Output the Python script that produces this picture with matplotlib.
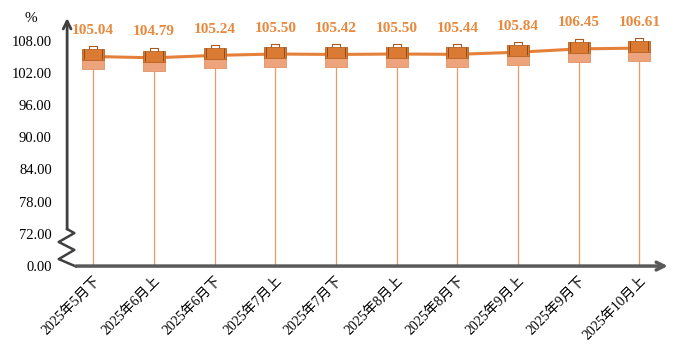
import matplotlib.pyplot as plt
from matplotlib.path import Path
from matplotlib.markers import MarkerStyle

periods = ['2025年5月下', '2025年6月上', '2025年6月下', '2025年7月上', '2025年7月下',
           '2025年8月上', '2025年8月下', '2025年9月上', '2025年9月下', '2025年10月上']
values = [105.04, 104.79, 105.24, 105.50, 105.42, 105.50, 105.44, 105.84, 106.45, 106.61]
ytick_pos = [66, 72, 78, 84, 90, 96, 102, 108]
ytick_labels = ['0.00', '72.00', '78.00', '84.00', '90.00', '96.00', '102.00', '108.00']

plt.rcParams['font.family'] = ['Liberation Serif', 'Noto Sans CJK SC']

fig = plt.figure(figsize=(6.78, 3.61), dpi=100)
ax = fig.add_axes([0.099, 0.263, 0.886, 0.687])
ax.set_xlim(-0.43, 9.47)
ax.set_ylim(66, 112.2)

x = list(range(len(values)))

# drop lines from each point to the axis
ax.vlines(x, 66, values, color='#E8894A', lw=0.9, alpha=0.85, zorder=1)
ax.plot(x, values, color='#E5803A', lw=2.2, zorder=2)

# briefcase-like markers
def box(x0, x1, y0, y1):
    return [(x0, y0), (x1, y0), (x1, y1), (x0, y1), (x0, y0)]

P = Path.MOVETO
L = Path.LINETO
C = Path.CLOSEPOLY
anchor = [(1.1, 1.1), (-1.1, -1.1)]
upper = Path(anchor + box(-1, 1, -0.36, 0.64), [P, P, P, L, L, L, C])
lower = Path(anchor + box(-0.95, 0.95, -1.1, -0.36), [P, P, P, L, L, L, C])
handle = Path(anchor + [(-0.35, 0.64), (-0.35, 0.92), (0.35, 0.92), (0.35, 0.64)],
              [P, P, P, L, L, L])
straps = Path(anchor + [(-0.8, -0.3), (-0.8, 0.58), (0.8, -0.3), (0.8, 0.58)],
              [P, P, P, L, P, L])

ms = 18
ax.plot(x, values, ls='none', marker=MarkerStyle(lower), markersize=ms,
        markerfacecolor='#EDA47C', markeredgecolor='#E39265', mew=0.6, zorder=3)
ax.plot(x, values, ls='none', marker=MarkerStyle(upper), markersize=ms,
        markerfacecolor='#DA7A33', markeredgecolor='#B8621F', mew=0.6, zorder=4)
ax.plot(x, values, ls='none', marker=MarkerStyle(handle), markersize=ms,
        markerfacecolor='none', markeredgecolor='#A95A1E', mew=0.8, zorder=4)
ax.plot(x, values, ls='none', marker=MarkerStyle(straps), markersize=ms,
        markerfacecolor='none', markeredgecolor='#8E4A18', mew=0.7, zorder=4)

for xi, v in zip(x, values):
    ax.annotate(f'{v:.2f}', (xi, v), xytext=(0, 14), textcoords='offset points',
                ha='center', va='bottom', fontsize=11, fontweight='bold',
                color='#E8893E', family='Liberation Serif')

ax.set_yticks(ytick_pos)
ax.set_yticklabels(ytick_labels, fontsize=10.5)
ax.set_xticks(x)
ax.set_xticklabels(periods, rotation=45, ha='right', rotation_mode='anchor', fontsize=10)
ax.tick_params(length=0)
ax.tick_params(axis='y', pad=11)
ax.tick_params(axis='x', pad=6)

for s in ax.spines.values():
    s.set_visible(False)

# y axis with break and arrow
brk = 0.149
ax.annotate('', xy=(0, 1.0), xytext=(0, brk), xycoords='axes fraction',
            arrowprops=dict(arrowstyle='->', lw=2, color='#404040', mutation_scale=14,
                            shrinkA=0, shrinkB=0))
zig_x = [0, 0.012, -0.014, 0.012, -0.014, 0.015]
zig_y = [brk, 0.133, 0.097, 0.065, 0.028, -0.002]
ax.plot(zig_x, zig_y, transform=ax.transAxes, color='#404040', lw=1.8, clip_on=False)

# x axis with arrow
ax.annotate('', xy=(1.0, 0), xytext=(0.015, 0), xycoords='axes fraction',
            arrowprops=dict(arrowstyle='->', lw=2.5, color='#595959', mutation_scale=14,
                            shrinkA=0, shrinkB=0))

fig.text(0.046, 0.948, '%', fontsize=11, ha='center', va='center')

fig.savefig('out.png', dpi=100)
